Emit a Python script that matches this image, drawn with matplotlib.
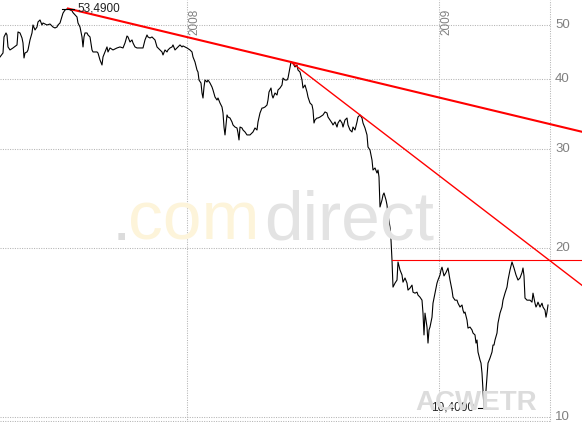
import numpy as np
import matplotlib
matplotlib.use("Agg")
import matplotlib.pyplot as plt
from matplotlib import transforms

# trading session index (one per day) and closing price
session = [0, 3, 4, 6, 7, 8, 10, 13, 17, 18, 20, 22, 23, 24, 25, 27, 28, 30, 32, 33,
           35, 37, 38, 40, 42, 43, 47, 50, 53, 55, 57, 58, 60, 63, 65, 67, 68, 70, 72, 73,
           77, 78, 80, 82, 83, 84, 85, 87, 88, 90, 92, 93, 97, 98, 100, 102, 103, 105, 107, 108,
           110, 113, 117, 120, 123, 125, 127, 128, 130, 132, 133, 135, 137, 140, 143, 145, 147, 148, 150, 152,
           153, 155, 157, 158, 160, 162, 163, 165, 167, 168, 170, 172, 173, 175, 177, 178, 180, 182, 183, 185,
           187, 190, 192, 193, 195, 197, 198, 199, 201, 202, 203, 204, 205, 207, 208, 210, 212, 213, 215, 217,
           218, 220, 222, 223, 224, 225, 227, 228, 230, 232, 233, 235, 237, 238, 239, 240, 242, 243, 245, 247,
           250, 252, 253, 255, 257, 258, 260, 262, 263, 265, 267, 268, 269, 271, 272, 273, 275, 277, 278, 280,
           282, 283, 285, 287, 288, 291, 293, 295, 297, 298, 300, 302, 303, 305, 307, 308, 310, 312, 313, 314,
           315, 317, 318, 320, 323, 325, 327, 328, 330, 332, 333, 335, 337, 338, 340, 342, 343, 345, 347, 348,
           350, 352, 353, 355, 357, 358, 360, 362, 363, 365, 367, 368, 370, 372, 373, 375, 377, 378, 379, 380,
           382, 383, 384, 386, 387, 388, 390, 391, 392, 393, 395, 397, 398, 400, 402, 403, 405, 407, 408, 410,
           412, 413, 415, 417, 418, 420, 422, 423, 424, 425, 426, 427, 428, 429, 430, 432, 433, 435, 437, 438,
           440, 441, 442, 444, 446, 448, 450, 452, 453, 455, 457, 458, 460, 462, 463, 464, 465, 467, 468, 470,
           472, 473, 475, 476, 477, 478, 480, 481, 482, 483, 484, 485, 486, 487, 488, 490, 492, 493, 494, 495,
           497, 498, 500, 502, 503, 505, 507, 508, 510, 512, 514, 516, 518, 520, 522, 523, 524, 525, 527, 528,
           530, 532, 533, 535, 536, 537, 538, 540, 542, 543, 545, 546, 547, 548]
close = [43.85, 44.57, 47.60, 48.39, 47.99, 45.69, 45.13, 45.50, 46.07, 48.59, 48.39, 47.40, 46.44, 43.67, 44.57, 44.76, 45.13, 47.02, 48.39, 50.00,
         48.99, 49.59, 50.62, 51.04, 50.00, 50.41, 50.00, 50.20, 49.59, 49.39, 49.59, 50.00, 50.41, 52.50, 53.17, 53.40, 53.49, 53.20, 53.00, 52.60,
         51.67, 50.41, 49.59, 47.60, 45.69, 47.60, 48.39, 48.39, 47.99, 47.60, 45.13, 44.76, 44.76, 44.57, 43.31, 42.43, 43.85, 44.76, 45.69, 44.76,
         45.50, 45.13, 45.50, 45.69, 45.50, 46.44, 47.79, 47.60, 46.63, 47.02, 46.44, 45.69, 45.50, 45.50, 45.50, 47.02, 47.99, 47.60, 47.40, 47.60,
         47.40, 47.02, 45.69, 45.50, 45.13, 44.76, 44.21, 45.13, 44.76, 45.13, 45.50, 45.69, 46.07, 45.13, 45.50, 45.69, 46.07, 45.69, 45.88, 45.69,
         45.50, 45.13, 44.76, 43.85, 42.95, 41.56, 41.22, 39.89, 39.40, 37.82, 37.05, 38.76, 39.89, 39.56, 39.89, 39.40, 38.76, 38.29, 37.20, 36.75,
         37.05, 36.30, 35.71, 34.84, 32.89, 31.84, 34.56, 34.27, 34.13, 33.58, 33.17, 32.89, 32.76, 32.10, 31.19, 32.89, 32.76, 32.49, 32.23, 31.84,
         31.84, 32.10, 32.23, 32.76, 32.49, 33.58, 34.84, 35.56, 35.56, 35.71, 36.00, 36.75, 37.97, 38.60, 37.51, 37.05, 37.82, 37.51, 38.29, 38.60,
         39.08, 40.21, 39.89, 39.89, 40.21, 42.95, 42.70, 42.09, 42.43, 41.56, 41.22, 39.89, 38.60, 39.08, 37.97, 37.20, 36.30, 36.00, 35.27, 33.44,
         33.86, 34.13, 34.13, 34.27, 34.56, 34.99, 34.84, 34.27, 33.86, 33.44, 33.17, 33.58, 32.89, 33.44, 33.86, 33.44, 32.89, 33.86, 34.13, 33.17,
         32.49, 32.23, 32.89, 32.49, 33.58, 34.27, 34.56, 34.13, 33.44, 32.76, 31.84, 30.30, 29.93, 28.72, 27.57, 27.80, 27.23, 27.57, 26.79, 23.69,
         24.38, 24.88, 25.09, 24.38, 23.89, 22.93, 21.80, 20.69, 19.05, 17.05, 17.33, 17.55, 18.90, 18.29, 17.92, 17.40, 17.70, 17.33, 16.84, 16.98,
         17.19, 16.70, 16.63, 16.70, 16.50, 16.36, 16.16, 15.32, 14.01, 15.32, 14.89, 14.47, 13.55, 14.30, 14.47, 15.07, 15.96, 16.63, 17.33, 17.55,
         17.92, 18.29, 18.50, 17.85, 18.10, 18.44, 17.55, 16.84, 16.36, 16.16, 16.16, 15.96, 15.71, 15.84, 15.51, 15.32, 15.39, 14.89, 14.41, 14.47,
         14.30, 14.12, 14.01, 13.55, 13.72, 13.06, 12.64, 12.48, 11.98, 11.17, 10.40, 10.48, 11.17, 11.79, 12.48, 12.74, 13.06, 13.44, 13.44, 13.72,
         14.12, 14.71, 15.32, 15.71, 16.16, 16.63, 17.05, 17.55, 18.29, 18.90, 18.44, 17.92, 17.55, 17.70, 18.10, 18.44, 17.85, 16.30, 16.16, 16.16,
         16.16, 16.03, 16.63, 15.96, 15.71, 15.84, 16.03, 15.71, 15.96, 15.71, 15.51, 15.07, 15.39, 15.84]

y_ticks = [10, 20, 30, 40, 50]
year_sessions = [187, 439]
year_labels = ["2008", "2009"]
resistance = 19.05
symbol = "ACWETR"

session = np.array(session, dtype=float)
close = np.array(close)

grid_kw = dict(color="#b4b4b4", lw=0.75, ls=(0, (1, 1.3)))
label_color = "#808080"
plot_end = 550      # right border of the plot area (in sessions)
x_right = 582

fig = plt.figure(figsize=(5.82, 4.22), dpi=100)
ax = fig.add_axes([0, 0, 1, 1])
ax.set_yscale("log")
ax.set_xlim(0, x_right)
ax.set_ylim(9.80, 55.4)
ax.axis("off")
plt.rcParams["font.family"] = ["Liberation Sans", "DejaVu Sans"]

# watermark
fig.text(112 / 582, 1 - 240 / 422, ".", fontsize=50, color="#dcdcdc", zorder=0)
fig.text(128 / 582, 1 - 240 / 422, "com", fontsize=50, color="#fdf4da", zorder=0)
fig.text(264 / 582, 1 - 240 / 422, "direct", fontsize=50, color="#e3e3e3", zorder=0)
fig.text(537 / 582, 1 - 410 / 422, symbol, fontsize=20, fontweight="bold",
         color="#dcdcdc", ha="right", va="baseline", zorder=0)

# grid
for v in y_ticks:
    ax.plot([0, plot_end], [v, v], **grid_kw, zorder=1)
    ax.text(555, v, str(v), color=label_color, fontsize=9.5, ha="left", va="center")
xt = ax.get_xaxis_transform()
for s, lab in zip(year_sessions + [plot_end], year_labels + [None]):
    ax.plot([s, s], [0, 1], transform=xt, **grid_kw, zorder=1)
    if lab:
        ax.text(s + 1.5, 1 - 9 / 422, lab, transform=xt, rotation=90,
                color=label_color, fontsize=8.5, ha="left", va="top")
bt = transforms.blended_transform_factory(ax.transData, ax.transAxes)
ax.plot([0, plot_end], [0.0018, 0.0018], transform=bt, **grid_kw, zorder=1)

# price
ax.plot(session, close, color="black", lw=0.8, zorder=3)

# trend lines (log-linear through the peaks)
i_max = int(np.argmax(close))
i_min = int(np.argmin(close))
m2 = (session > 250) & (session < 330)
i_p2 = int(np.flatnonzero(m2)[np.argmax(close[m2])])
m3 = (session > 340) & (session < 370)
i_p3 = int(np.flatnonzero(m3)[np.argmax(close[m3])])


def trend(i0, i1):
    l0, l1 = np.log10(close[i0]), np.log10(close[i1])
    slope = (l1 - l0) / (session[i1] - session[i0])
    xs = np.array([session[i0], x_right])
    return xs, 10 ** (l0 + slope * (xs - session[i0]))


xs, ys = trend(i_max, i_p2)
ax.plot(xs, ys, color="#ff0000", lw=1.5, zorder=4)
xs, ys = trend(i_p2, i_p3)
ax.plot(xs, ys, color="#ff0000", lw=1.0, zorder=4)
after = np.flatnonzero((session > 370) & (close < resistance))[0]
ax.plot([session[after] - 1, x_right], [resistance, resistance], color="#ff0000", lw=0.8, zorder=4)

# extreme labels
for i, side in ((i_max, 1), (i_min, -1)):
    ax.plot([session[i] - 6, session[i] + 6], [close[i], close[i]], color="black", lw=0.8, zorder=5)
    ax.annotate(f"{close[i]:.4f}".replace(".", ","), xy=(session[i], close[i]),
                xytext=(side * 7, 0), textcoords="offset points",
                ha="left" if side > 0 else "right", va="center",
                fontsize=8.5, color="#222222", zorder=5)

fig.savefig("out.png", dpi=100)
